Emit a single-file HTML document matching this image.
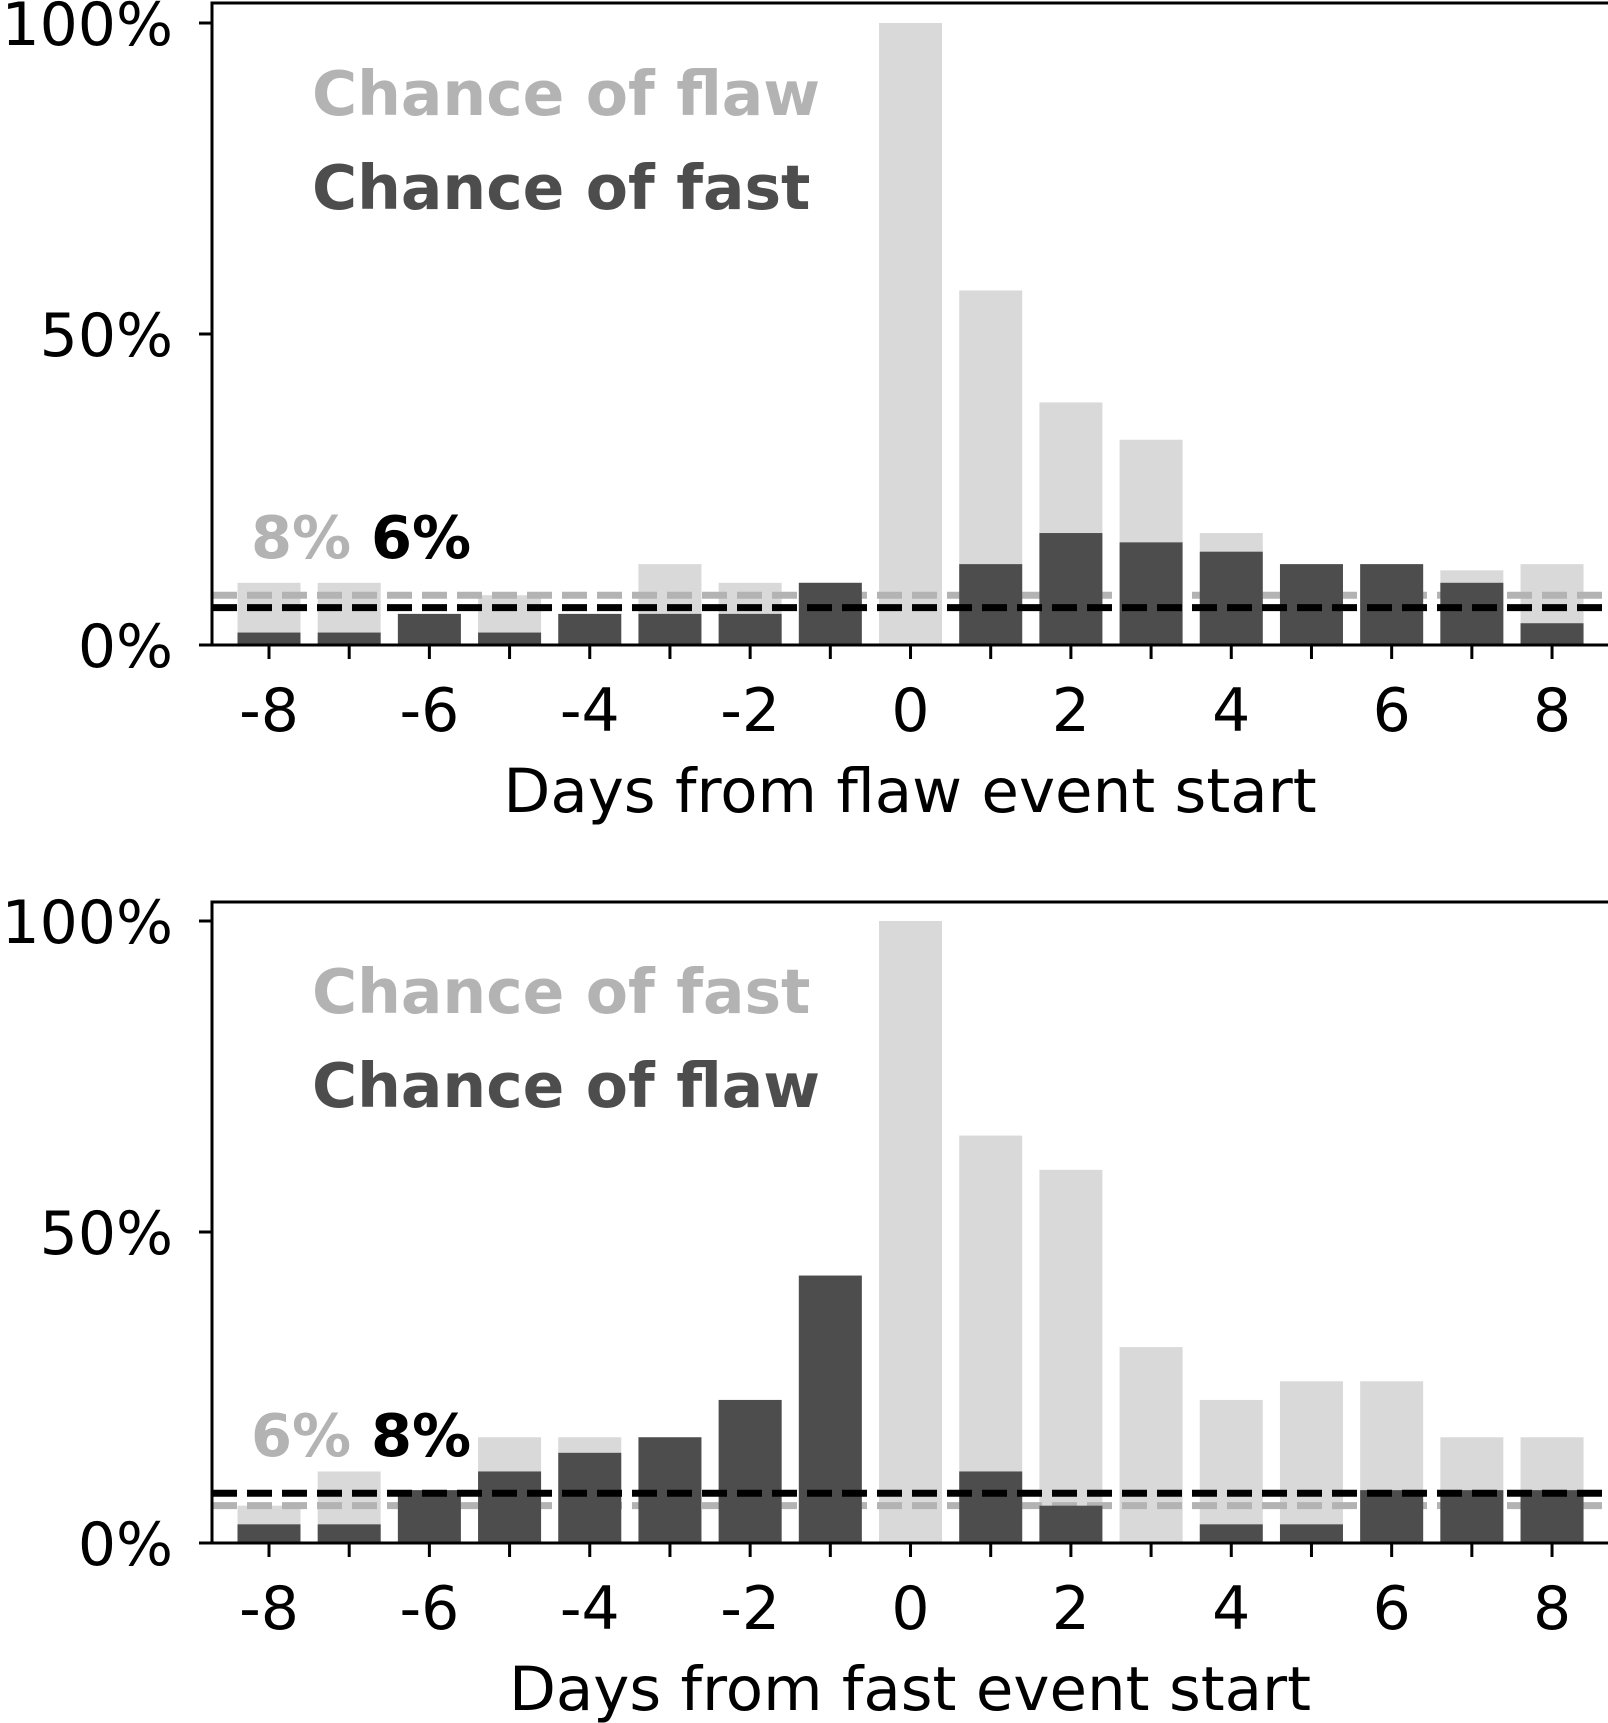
<!DOCTYPE html>
<html><head><meta charset="utf-8"><style>
html,body{margin:0;padding:0;background:#fff;}
svg{display:block;}
text{font-family:"DejaVu Sans","Liberation Sans",sans-serif;}
</style></head><body>
<svg id="fig" width="1608" height="1723" viewBox="0 0 1608 1723" xmlns="http://www.w3.org/2000/svg"></svg>
<script>
const days = [-8,-7,-6,-5,-4,-3,-2,-1,0,1,2,3,4,5,6,7,8];
const xTicks = [-8,-6,-4,-2,0,2,4,6,8];
const yTicks = [0,50,100];
const yTickLabels = ["0%","50%","100%"];
const topLight = [10,10,5,8,5,13,10,10,100,57,39,33,18,13,13,12,13];
const topDark = [2,2,5,2,5,5,5,10,0,13,18,16.5,15,13,13,10,3.5];
const botLight = [6,11.5,8.5,17,17,17,23,43,100,65.5,60,31.5,23,26,26,17,17];
const botDark = [3,3,8.5,11.5,14.5,17,23,43,0,11.5,6,0,3,3,8.5,8.5,8.5];
const topBase = [8,6];
const botBase = [6,8];
const panels = [
 {light:topLight,dark:topDark,base:topBase,legend:["Chance of flaw","Chance of fast"],xlabel:"Days from flaw event start",top:3,y100:23,y0:645,name:"top",annY:558},
 {light:botLight,dark:botDark,base:botBase,legend:["Chance of fast","Chance of flaw"],xlabel:"Days from fast event start",top:902,y100:921,y0:1543,name:"bottom",annY:1456}
];
const NS="http://www.w3.org/2000/svg";
const svg=document.getElementById('fig');
function mk(tag,attrs,parent,text){const e=document.createElementNS(NS,tag);for(const k in attrs)e.setAttribute(k,attrs[k]);if(text!==undefined)e.textContent=text;(parent||svg).appendChild(e);return e;}
const L=212,R=1608;
const xScale=d=>269+(d+8)*80.19;
const bw=63;
panels.forEach(p=>{
 const ys=v=>p.y0+(p.y100-p.y0)*v/100;
 const g=mk('g',{});
 
 
 p.light.forEach((v,i)=>{const r=mk('rect',{x:xScale(days[i])-bw/2,y:ys(v),width:bw,height:p.y0-ys(v),fill:'#d9d9d9'},g);
  
  });
 const gl=mk('line',{x1:L,x2:R,y1:ys(p.base[0]),y2:ys(p.base[0]),stroke:'#b3b3b3','stroke-width':7,'stroke-dasharray':'25 10'},g);
 
 
 p.dark.forEach((v,i)=>{const r=mk('rect',{x:xScale(days[i])-bw/2,y:ys(v),width:bw,height:p.y0-ys(v),fill:'#4d4d4d'},g);
  
  });
 const bl=mk('line',{x1:L,x2:R,y1:ys(p.base[1]),y2:ys(p.base[1]),stroke:'#000','stroke-width':7,'stroke-dasharray':'25 10'},g);
 
 
 const fr=mk('rect',{x:L,y:p.top,width:R-L+2,height:p.y0-p.top,fill:'none',stroke:'#000','stroke-width':3},g);
 
 
 yTicks.forEach((t,i)=>{mk('line',{x1:L-13,x2:L,y1:ys(t),y2:ys(t),stroke:'#000','stroke-width':3},g);
  const tx=mk('text',{x:173,y:ys(t)+22,'font-size':60,'text-anchor':'end',fill:'#000'},g,yTickLabels[i]);
  
  });
 days.forEach(d=>mk('line',{x1:xScale(d),x2:xScale(d),y1:p.y0,y2:p.y0+14,stroke:'#000','stroke-width':3},g));
 xTicks.forEach(d=>{const tx=mk('text',{x:xScale(d),y:p.y0+86,'font-size':60,'text-anchor':'middle',fill:'#000'},g,String(d));
  
  });
 const xl=mk('text',{x:910,y:p.y0+167,'font-size':61,'text-anchor':'middle',fill:'#000'},g,p.xlabel);
 
 
 const l1=mk('text',{x:312,y:p.y100+92,'font-size':61.5,'font-weight':'bold',fill:'#b3b3b3'},g,p.legend[0]);
 
 
 const l2=mk('text',{x:312,y:p.y100+186,'font-size':61.5,'font-weight':'bold',fill:'#4d4d4d'},g,p.legend[1]);
 
 
 const a1=mk('text',{x:251,y:p.annY,'font-size':59,'font-weight':'bold',fill:'#b3b3b3'},g,p.base[0]+'%');
 
 
 const a2=mk('text',{x:371,y:p.annY,'font-size':59,'font-weight':'bold',fill:'#000'},g,p.base[1]+'%');
 
 
});
</script>
</body></html>
